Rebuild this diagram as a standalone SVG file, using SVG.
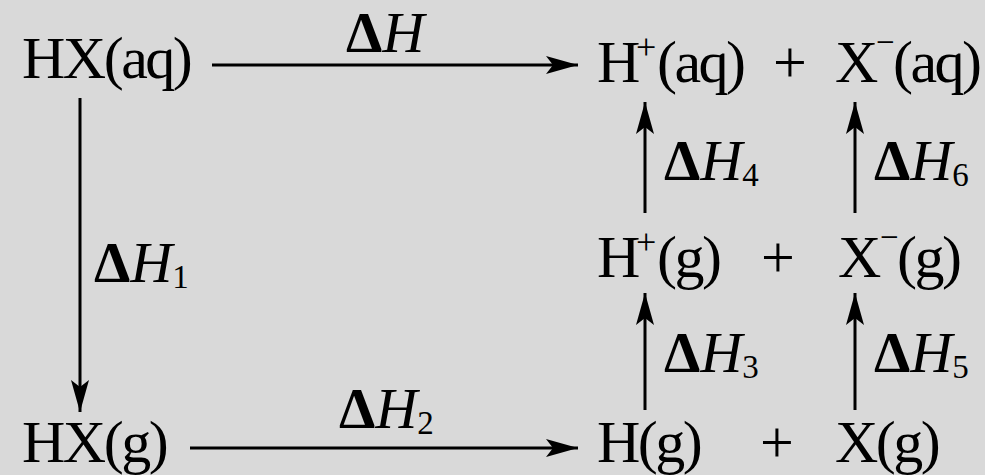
<svg xmlns="http://www.w3.org/2000/svg" width="985" height="475" viewBox="0 0 985 475">
<style>
text{font-family:"Liberation Serif","Times New Roman",serif;fill:#000}
.t{font-size:60px;letter-spacing:-2.5px}
.l{font-size:58px}
.d{font-weight:bold}
.i{font-style:italic}
.s{font-size:33px}
.p{font-size:36px;letter-spacing:0}
.m{font-size:33px;letter-spacing:0}
.ln{stroke:#000;stroke-width:3;fill:none}
</style>
<defs>
<marker id="ah" viewBox="0 0 32 18" refX="32" refY="9" markerWidth="32" markerHeight="18" markerUnits="userSpaceOnUse" orient="auto">
<path d="M0,0 L32,9 L0,18 L7,9 Z" fill="#000"/>
</marker>
</defs>
<rect width="985" height="475" fill="#d9d9d9"/>
<g id="connectors">
<line class="ln" x1="212" y1="65" x2="578" y2="65" marker-end="url(#ah)"/>
<line class="ln" x1="80" y1="98" x2="80" y2="412" marker-end="url(#ah)"/>
<line class="ln" x1="190" y1="448" x2="578" y2="448" marker-end="url(#ah)"/>
<line class="ln" x1="645" y1="213" x2="645" y2="102" marker-end="url(#ah)"/>
<line class="ln" x1="855" y1="213" x2="855" y2="102" marker-end="url(#ah)"/>
<line class="ln" x1="645" y1="410" x2="645" y2="293" marker-end="url(#ah)"/>
<line class="ln" x1="855" y1="410" x2="855" y2="293" marker-end="url(#ah)"/>
</g>
<g id="hxaq"><text class="t" x="22" y="78">HX(aq)</text></g>
<g id="hxg"><text class="t" x="22" y="462">HX(g)</text></g>
<g id="ions-aq"><text class="t" y="82"><tspan x="597">H</tspan><tspan class="p" x="636" y="59">+</tspan><tspan x="657" y="82">(aq)</tspan><tspan x="773">+</tspan><tspan x="835">X</tspan><tspan class="m" x="876" y="53">−</tspan><tspan x="893" y="82">(aq)</tspan></text></g>
<g id="ions-g"><text class="t" y="277"><tspan x="597">H</tspan><tspan class="p" x="636" y="254">+</tspan><tspan x="657" y="277">(g)</tspan><tspan x="761">+</tspan><tspan x="838">X</tspan><tspan class="m" x="880" y="248">−</tspan><tspan x="897" y="277">(g)</tspan></text></g>
<g id="atoms-g"><text class="t" y="462"><tspan x="597">H(g)</tspan><tspan x="760">+</tspan><tspan x="835">X(g)</tspan></text></g>
<g id="labels">
<text class="l" x="346" y="52"><tspan class="d">Δ</tspan><tspan class="i">H</tspan></text>
<text class="l" x="94" y="282"><tspan class="d">Δ</tspan><tspan class="i">H</tspan><tspan class="s" dy="6">1</tspan></text>
<text class="l" x="339" y="428"><tspan class="d">Δ</tspan><tspan class="i">H</tspan><tspan class="s" dy="6">2</tspan></text>
<text class="l" x="664" y="180"><tspan class="d">Δ</tspan><tspan class="i">H</tspan><tspan class="s" dy="6">4</tspan></text>
<text class="l" x="874" y="180"><tspan class="d">Δ</tspan><tspan class="i">H</tspan><tspan class="s" dy="6">6</tspan></text>
<text class="l" x="664" y="372"><tspan class="d">Δ</tspan><tspan class="i">H</tspan><tspan class="s" dy="6">3</tspan></text>
<text class="l" x="874" y="372"><tspan class="d">Δ</tspan><tspan class="i">H</tspan><tspan class="s" dy="6">5</tspan></text>
</g>
</svg>
